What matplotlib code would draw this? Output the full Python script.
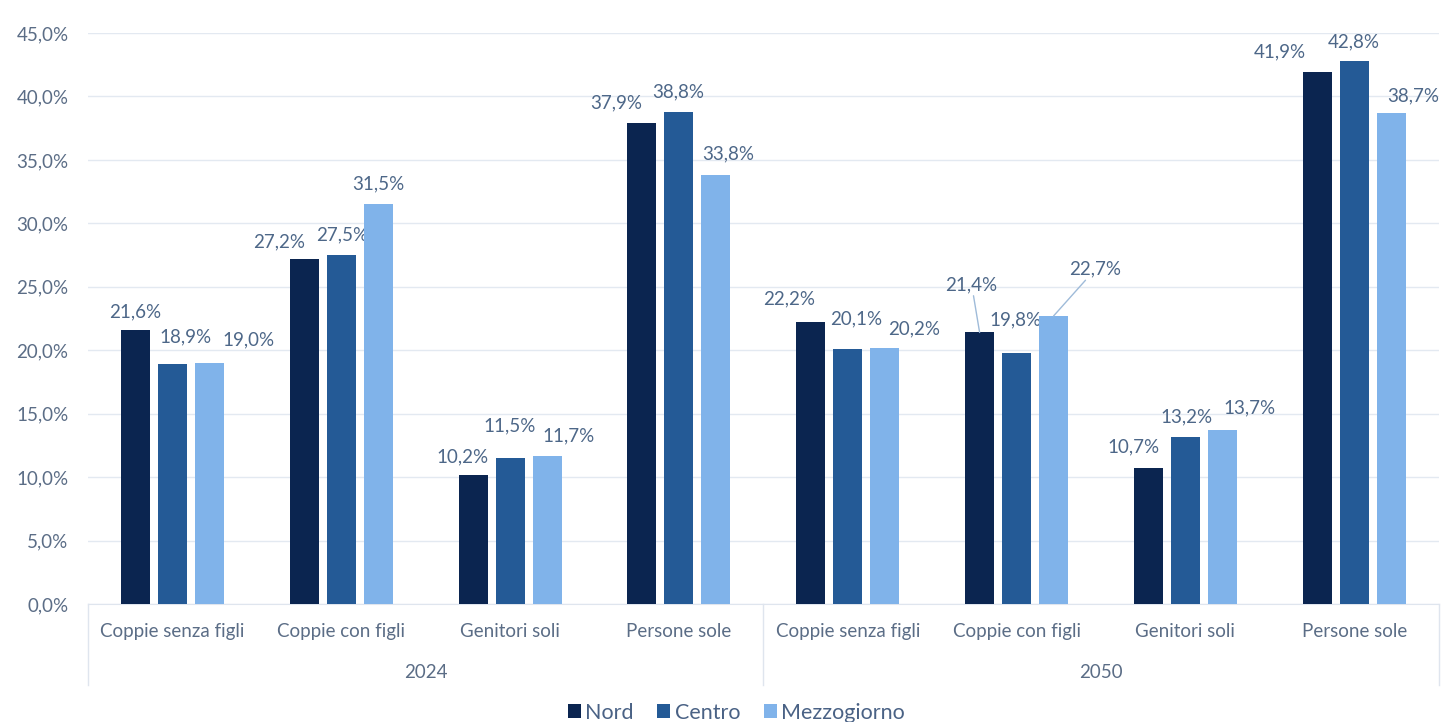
import numpy as np
import matplotlib.pyplot as plt

# dati
categorie = ["Coppie senza figli", "Coppie con figli", "Genitori soli", "Persone sole"] * 2
anni = ["2024", "2050"]
nord = [21.6, 27.2, 10.2, 37.9, 22.2, 21.4, 10.7, 41.9]
centro = [18.9, 27.5, 11.5, 38.8, 20.1, 19.8, 13.2, 42.8]
mezzogiorno = [19.0, 31.5, 11.7, 33.8, 20.2, 22.7, 13.7, 38.7]
serie = ["Nord", "Centro", "Mezzogiorno"]
colori = ["#0b2550", "#245a96", "#80b3ea"]

# spostamento etichette (pixel) rispetto alla cima della barra
spost = [
    [(0, 18), (-25, 17), (-11, 18), (-26, 20), (-22, 23), (-8, 48), (-15, 21), (-37, 20)],
    [(13, 27), (1, 20), (0, 32), (-1, 20), (8, 30), (-1, 33), (1, 20), (0, 19)],
    [(39, 23), (0, 20), (21, 20), (12, 21), (29, 19), (42, 47), (27, 22), (22, 17)],
]
con_linea = [(0, 5), (2, 5)]

plt.rcParams['font.family'] = ['Lato', 'DejaVu Sans']
testo = "#5b6d86"
etich = "#4d6788"
fs = 13.5

fig = plt.figure(figsize=(14.43, 7.22), dpi=100)
ax = fig.add_axes([0.061, 0.1634, 0.936, 0.7909])

x = np.arange(len(categorie))
larg = 0.172
passo = 0.219
valori = [nord, centro, mezzogiorno]
for i, (v, nome, col) in enumerate(zip(valori, serie, colori)):
    xs = x + (i - 1) * passo
    ax.bar(xs, v, width=larg, color=col, label=nome, zorder=3)
    for j, val in enumerate(v):
        dx, dy = spost[i][j]
        s = f"{val:.1f}%".replace(".", ",")
        freccia = None
        if (i, j) in con_linea:
            freccia = dict(arrowstyle="-", color="#9fbbd9", lw=1, shrinkA=0, shrinkB=0)
        ax.annotate(s, xy=(xs[j], val), xytext=(dx, dy), textcoords="offset pixels",
                    ha="center", va="center", fontsize=fs, color=etich,
                    arrowprops=freccia)

ax.set_xlim(-0.5, 7.5)
ax.set_ylim(0, 45)
ax.set_yticks(np.arange(0, 46, 5))
ax.set_yticklabels([f"{t:.1f}%".replace(".", ",") for t in np.arange(0, 46, 5)],
                   color=testo, fontsize=fs)
ax.set_xticks(x)
ax.set_xticklabels(categorie, color=testo, fontsize=fs)
ax.tick_params(axis="both", length=0)
ax.tick_params(axis="y", pad=14)
ax.tick_params(axis="x", pad=14)
ax.grid(axis="y", color="#e3e9f1", lw=1, zorder=0)
for s in ["top", "right", "left"]:
    ax.spines[s].set_visible(False)
ax.spines["bottom"].set_color("#dfe5ee")

# separatori e anni
trans = ax.get_xaxis_transform()
for xv in [-0.5, 3.5, 7.5]:
    ax.plot([xv, xv], [0, -0.142], transform=trans, color="#dfe5ee", lw=1, clip_on=False)
for k, a in enumerate(anni):
    ax.text(1.5 + 4 * k, -0.12, a, transform=trans, ha="center", va="center",
            color=testo, fontsize=fs)

ax.legend(loc="center", bbox_to_anchor=(0.48, -0.19), ncol=3, frameon=False,
          handlelength=0.6, handleheight=0.6, handletextpad=0.2, columnspacing=1.1,
          fontsize=15.5, labelcolor="#4a6285", borderpad=0)

fig.savefig("out.png", dpi=100)
